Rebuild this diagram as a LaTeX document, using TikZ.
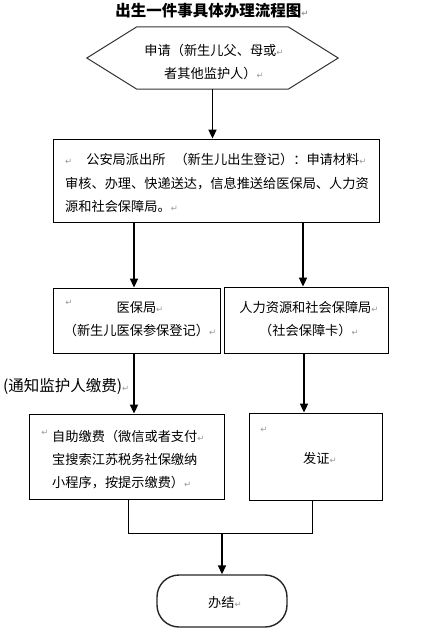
\documentclass[tikz,border=0pt]{standalone}
\usepackage{fontspec}
\setmainfont{Noto Sans CJK SC}
\newfontfamily\symfont{DejaVu Sans}
\usetikzlibrary{arrows.meta}
\newcommand{\retmark}{{\symfont\color{black!40}\fontsize{8.5}{8.5}\selectfont ↵}}
\tikzset{
  box/.style={draw=black, line width=0.8pt, rectangle, inner sep=0pt},
  txt/.style={inner sep=0pt, font=\fontsize{13.2}{16}\selectfont},
  bigtxt/.style={inner sep=0pt, font=\fontsize{15.5}{18}\selectfont},
  arr/.style={line width=1.6pt, -{Triangle[width=8pt,length=9pt]}},
  link/.style={line width=0.8pt}
}
\begin{document}
\begin{tikzpicture}[x=1pt,y=-1pt]
\fill[white] (0,0) rectangle (439,633);
\useasboundingbox (0,0) rectangle (439,633);

% title
\node[bigtxt, font=\fontsize{15.5}{18}\selectfont\bfseries, anchor=base] (title) at (212,16) {出生一件事具体办理流程图\retmark};

% hexagon
\node[minimum width=251pt, minimum height=62pt, inner sep=0pt] (apply) at (212.5,58) {};
\draw[line width=1pt, draw=black!80] (apply.west) -- ([xshift=50pt]apply.north west) -- ([xshift=-50pt]apply.north east)
  -- (apply.east) -- ([xshift=-50pt]apply.south east) -- ([xshift=50pt]apply.south west) -- cycle;
\node[txt, anchor=base] (h1) at (214,55) {申请（新生儿父、母或\retmark};
\node[txt, anchor=base] (h2) at (214,78) {者其他监护人）\retmark};

% police box
\node[box, minimum width=326pt, minimum height=83pt] (police) at (216,180.5) {};
\node[txt, anchor=base west] (p1) at (65,164) {\retmark\hspace{14pt}公安局派出所\hspace{9pt}（新生儿出生登记）：申请材料\retmark};
\node[txt, anchor=base west] (p2) at (65,188) {审核、办理、快递送达，信息推送给医保局、人力资};
\node[txt, anchor=base west] (p3) at (65,211) {源和社会保障局。\retmark};

% medical insurance box
\node[box, minimum width=167pt, minimum height=65pt] (yb) at (136.5,320.5) {};
\node[txt] (ybm) at (69,303) {\retmark};
\node[txt, anchor=base] (yb1) at (140,312) {医保局\retmark};
\node[txt, anchor=base] (yb2) at (140,335) {（新生儿医保参保登记）\retmark};

% human resources box
\node[box, minimum width=164pt, minimum height=66pt] (rl) at (306,320) {};
\node[txt, anchor=base] (rl1) at (309,312) {人力资源和社会保障局\retmark};
\node[txt, anchor=base] (rl2) at (309,335) {（社会保障卡）\retmark};

% notification label
\node[bigtxt, anchor=base west] (note) at (3,391) {(通知监护人缴费)\retmark};

% payment box
\node[box, minimum width=195pt, minimum height=85pt] (pay) at (126.5,456.5) {};
\node[txt] (paym) at (45,433) {\retmark};
\node[txt, anchor=base west] (pay1) at (52,441) {自助缴费（微信或者支付\retmark};
\node[txt, anchor=base west] (pay2) at (52,464) {宝搜索江苏税务社保缴纳};
\node[txt, anchor=base west] (pay3) at (52,487) {小程序，按提示缴费）\retmark};

% certificate box
\node[box, minimum width=133pt, minimum height=87pt] (cert) at (315.5,456.5) {};
\node[txt] (certm) at (264,430) {\retmark};
\node[txt, anchor=base] (cert1) at (320,463) {发证\retmark};

% end terminator
\node[draw=black!85, line width=1.4pt, rounded corners=22pt, minimum width=130pt, minimum height=52pt, inner sep=0pt] (end) at (222,601) {};
\node[txt, anchor=base] (end1) at (225,607) {办结\retmark};

% connectors
\draw[arr] (apply.south) -- (apply.south |- police.north);
\draw[arr] ([xshift=-2.5pt]yb.north |- police.south) -- ([xshift=-2.5pt]yb.north);
\draw[arr] ([xshift=-3pt]rl.north |- police.south) -- ([xshift=-3pt]rl.north);
\draw[arr] ([xshift=-2.5pt]yb.south) -- ([xshift=-2.5pt]yb.south |- pay.north);
\draw[arr] ([xshift=-2pt]rl.south) -- ([xshift=-2pt]rl.south |- cert.north);
\coordinate (merge) at (222,533);
\draw[link] ([xshift=1.5pt]pay.south) -- ([xshift=1.5pt]pay.south |- merge) -- ([xshift=-3.5pt]cert.south |- merge) -- ([xshift=-3.5pt]cert.south);
\draw[arr] (merge) -- (end.north);
\end{tikzpicture}
\end{document}
